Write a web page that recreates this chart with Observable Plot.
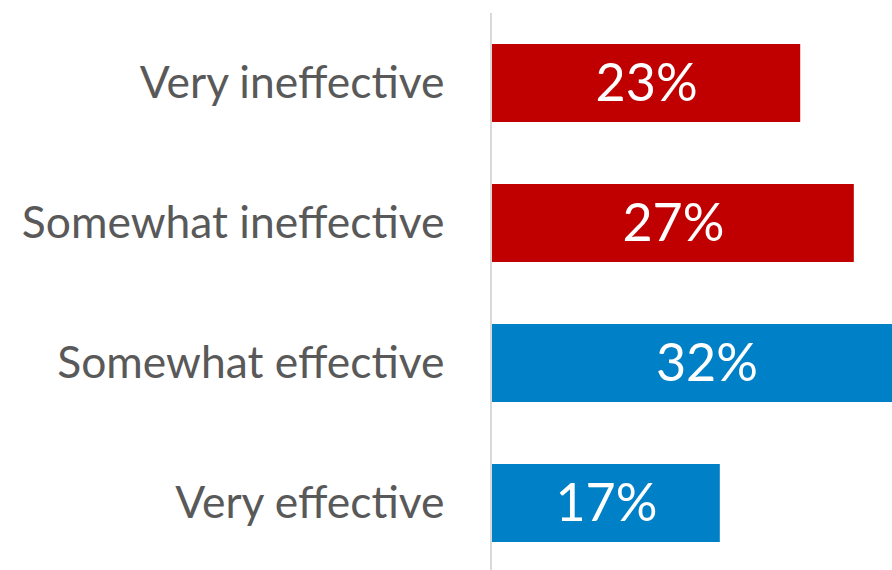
<!DOCTYPE html>
<html>
<head>
<meta charset="utf-8">
<script src="https://cdn.jsdelivr.net/npm/d3@7"></script>
<script src="https://cdn.jsdelivr.net/npm/@observablehq/plot@0.6"></script>
<style>
  html, body { margin: 0; padding: 0; background: white; overflow: hidden; }
</style>
</head>
<body>
<div id="chart"></div>
<script>
const categories = ["Very ineffective", "Somewhat ineffective", "Somewhat effective", "Very effective"];
const values = [23, 27, 32, 17];
const groups = ["ineffective", "ineffective", "effective", "effective"];

const data = categories.map((c, i) => ({category: c, value: values[i], group: groups[i]}));

const chart = Plot.plot({
  width: 892,
  height: 570,
  marginLeft: 492,
  marginRight: 0,
  marginTop: 13,
  marginBottom: -4,
  style: {fontFamily: "Lato, sans-serif", background: "white"},
  x: {domain: [0, 29.85], axis: null},
  y: {domain: categories, paddingInner: 0.44, paddingOuter: 0.22, axis: null},
  color: {domain: ["ineffective", "effective"], range: ["#C00000", "#0080C6"]},
  marks: [
    Plot.barX(data, {x: "value", y: "category", fill: "group", clip: true}),
    Plot.ruleX([0], {stroke: "#d9d9d9", strokeWidth: 2, dx: -1.5}),
    Plot.text(data, {x: d => d.value / 2, y: "category", text: d => d.value + "%", fill: "white", fontSize: 52, dy: 1}),
    Plot.text(data, {x: 0, y: "category", text: "category", textAnchor: "end", dx: -48, dy: 0, fill: "#595959", fontSize: 44.4})
  ]
});
document.getElementById("chart").appendChild(chart);
</script>
</body>
</html>
